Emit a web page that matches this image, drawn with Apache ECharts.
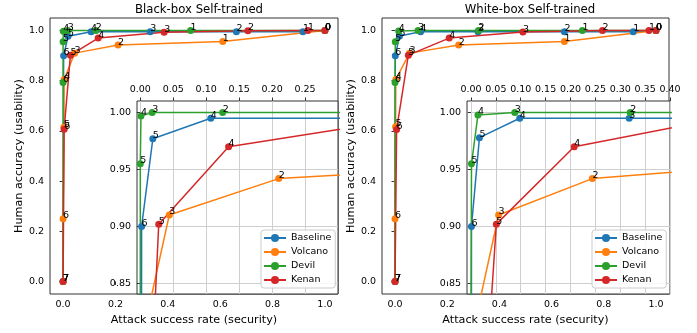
<!DOCTYPE html>
<html>
<head>
<meta charset="utf-8">
<script src="https://cdn.jsdelivr.net/npm/echarts@6/dist/echarts.min.js"></script>
<style>
  html, body { margin: 0; padding: 0; background: #fff; }
  #chart { width: 697px; height: 333px; }
</style>
</head>
<body>
<div id="chart"></div>
<script>
const seriesNames = ['Baseline', 'Volcano', 'Devil', 'Kenan'];
const seriesColors = ['#1f77b4', '#ff7f0e', '#2ca02c', '#d62728'];
const pointLabels = ['0', '1', '2', '3', '4', '5', '6', '7'];

const mainTicks = [0, 0.2, 0.4, 0.6, 0.8, 1.0];
const insetYTicks = [0.85, 0.90, 0.95, 1.00];
const bbInsetXTicks = [0, 0.05, 0.10, 0.15, 0.20, 0.25];
const wbInsetXTicks = [0, 0.05, 0.10, 0.15, 0.20, 0.25, 0.30, 0.35, 0.40];

// Black-box Self-trained
const bbBaselineX = [1.0, 0.916, 0.662, 0.333, 0.107, 0.019, 0.002, 0.0];
const bbBaselineY = [1.0, 0.995, 0.995, 0.995, 0.995, 0.977, 0.900, 0.0];
const bbVolcanoX = [1.0, 0.61, 0.21, 0.044, 0.004, 0.003, 0.0, 0.0];
const bbVolcanoY = [1.0, 0.956, 0.942, 0.910, 0.805, 0.615, 0.25, 0.0];
const bbDevilX = [1.0, 0.487, 0.125, 0.018, 0.001, 0.0, 0.0, 0.0];
const bbDevilY = [1.0, 1.0, 1.0, 1.0, 0.997, 0.955, 0.793, 0.0];
const bbKenanX = [1.0, 0.935, 0.706, 0.386, 0.134, 0.028, 0.004, 0.0];
const bbKenanY = [1.0, 1.0, 0.999, 0.993, 0.970, 0.902, 0.607, 0.0];

// White-box Self-trained
const wbBaselineX = [1.0, 0.913, 0.649, 0.318, 0.098, 0.017, 0.001, 0.0];
const wbBaselineY = [1.0, 0.995, 0.995, 0.995, 0.995, 0.978, 0.900, 0.0];
const wbVolcanoX = [1.0, 0.649, 0.244, 0.0555, 0.003, 0.002, 0.0, 0.0];
const wbVolcanoY = [1.0, 0.956, 0.942, 0.910, 0.805, 0.617, 0.25, 0.0];
const wbDevilX = [1.0, 0.718, 0.32, 0.088, 0.014, 0.001, 0.0, 0.0];
const wbDevilY = [1.0, 1.0, 1.0, 1.0, 0.998, 0.955, 0.793, 0.0];
const wbKenanX = [1.0, 0.973, 0.795, 0.49, 0.2075, 0.051, 0.006, 0.0];
const wbKenanY = [1.0, 1.0, 1.0, 0.994, 0.970, 0.902, 0.606, 0.0];

const bbData = [[bbBaselineX, bbBaselineY], [bbVolcanoX, bbVolcanoY], [bbDevilX, bbDevilY], [bbKenanX, bbKenanY]];
const wbData = [[wbBaselineX, wbBaselineY], [wbVolcanoX, wbVolcanoY], [wbDevilX, wbDevilY], [wbKenanX, wbKenanY]];

const font = 'DejaVu Sans';
const fs = 9.5;
const spine = '#333';

const pairs = (xs, ys) => xs.map((x, i) => [x, ys[i]]);

function makeSeries(data, axisIndex, z) {
  return data.map((d, k) => ({
    name: seriesNames[k],
    type: 'line',
    xAxisIndex: axisIndex,
    yAxisIndex: axisIndex,
    data: pairs(d[0], d[1]),
    z: z,
    clip: true,
    symbol: 'circle',
    symbolSize: 7,
    color: seriesColors[k],
    lineStyle: { width: 1.5, color: seriesColors[k] },
    itemStyle: { color: seriesColors[k] },
    label: {
      show: true,
      formatter: p => pointLabels[p.dataIndex],
      position: [3.5, 5.5],
      align: 'left',
      verticalAlign: 'bottom',
      color: '#000',
      fontFamily: font,
      fontSize: fs
    },
    emphasis: { disabled: true },
    animation: false
  }));
}

function mainX(grid) {
  return {
    gridIndex: grid, type: 'value', min: -0.05, max: 1.05,
    name: 'Attack success rate (security)', nameLocation: 'middle', nameGap: 19,
    nameTextStyle: { fontFamily: font, fontSize: 11.2, color: '#000' },
    axisLine: { show: false },
    axisTick: { show: true, length: 3.5, customValues: mainTicks, lineStyle: { color: spine } },
    axisLabel: { customValues: mainTicks, margin: 6, formatter: v => v.toFixed(1), fontFamily: font, fontSize: fs, color: '#000' },
    splitLine: { show: false }
  };
}
function mainY(grid) {
  return {
    gridIndex: grid, type: 'value', min: -0.05, max: 1.05,
    name: 'Human accuracy (usability)', nameLocation: 'middle', nameGap: 25,
    nameTextStyle: { fontFamily: font, fontSize: 11.2, color: '#000' },
    axisLine: { show: false },
    axisTick: { show: true, length: 3.5, customValues: mainTicks, lineStyle: { color: spine } },
    axisLabel: { customValues: mainTicks, margin: 6, formatter: v => v.toFixed(1), fontFamily: font, fontSize: fs, color: '#000' },
    splitLine: { show: false }
  };
}
function insetX(grid, min, max, ticks) {
  return {
    gridIndex: grid, type: 'value', position: 'top', min: min, max: max, z: 4,
    axisLine: { show: false },
    axisTick: { show: true, length: 3.5, customValues: ticks, lineStyle: { color: spine } },
    axisLabel: { customValues: ticks, margin: 6, formatter: v => v.toFixed(2), fontFamily: font, fontSize: fs, color: '#000' },
    splitLine: { show: true, lineStyle: { color: '#cfcfcf', width: 1 } }
  };
}
function insetY(grid) {
  return {
    gridIndex: grid, type: 'value', min: 0.8406, max: 1.0102, z: 4,
    axisLine: { show: false },
    axisTick: { show: true, length: 3.5, customValues: insetYTicks, lineStyle: { color: spine } },
    axisLabel: { customValues: insetYTicks, margin: 6, formatter: v => v.toFixed(2), fontFamily: font, fontSize: fs, color: '#000' },
    splitLine: { show: true, lineStyle: { color: '#cfcfcf', width: 1 } }
  };
}
function legendAt(left) {
  return {
    data: seriesNames, orient: 'vertical', left: left, top: 230, z: 8,
    padding: [3, 4, 3, 2], itemWidth: 22, itemHeight: 10, itemGap: 4,
    backgroundColor: 'rgba(255,255,255,0.85)', borderColor: '#cccccc', borderWidth: 1, borderRadius: 3,
    textStyle: { fontFamily: font, fontSize: fs, color: '#000', lineHeight: 10 },
    selectedMode: false
  };
}

const chart = echarts.init(document.getElementById('chart'), null, { renderer: 'canvas' });
chart.setOption({
  animation: false,
  backgroundColor: '#fff',
  title: [
    { text: 'Black-box Self-trained', left: 194, top: -1, textAlign: 'center', textStyle: { fontFamily: font, fontSize: 11.7, fontWeight: 'normal', color: '#000' } },
    { text: 'White-box Self-trained', left: 525, top: -1, textAlign: 'center', textStyle: { fontFamily: font, fontSize: 11.7, fontWeight: 'normal', color: '#000' } }
  ],
  legend: [legendAt(261), legendAt(592)],
  grid: [
    { left: 50, top: 18, width: 288, height: 276, show: true, borderColor: spine, borderWidth: 1, backgroundColor: 'transparent', z: 0 },
    { left: 137, top: 101, width: 201, height: 193, show: true, borderColor: spine, borderWidth: 1, backgroundColor: '#fff', z: 3 },
    { left: 382, top: 18, width: 287, height: 276, show: true, borderColor: spine, borderWidth: 1, backgroundColor: 'transparent', z: 0 },
    { left: 467, top: 101, width: 203, height: 193, show: true, borderColor: spine, borderWidth: 1, backgroundColor: '#fff', z: 3 }
  ],
  xAxis: [mainX(0), insetX(1, -0.005, 0.30, bbInsetXTicks), mainX(2), insetX(3, -0.008, 0.40, wbInsetXTicks)],
  yAxis: [mainY(0), insetY(1), mainY(2), insetY(3)],
  series: [
    ...makeSeries(bbData, 0, 2),
    ...makeSeries(bbData, 1, 5),
    ...makeSeries(wbData, 2, 2),
    ...makeSeries(wbData, 3, 5)
  ]
});
</script>
</body>
</html>
